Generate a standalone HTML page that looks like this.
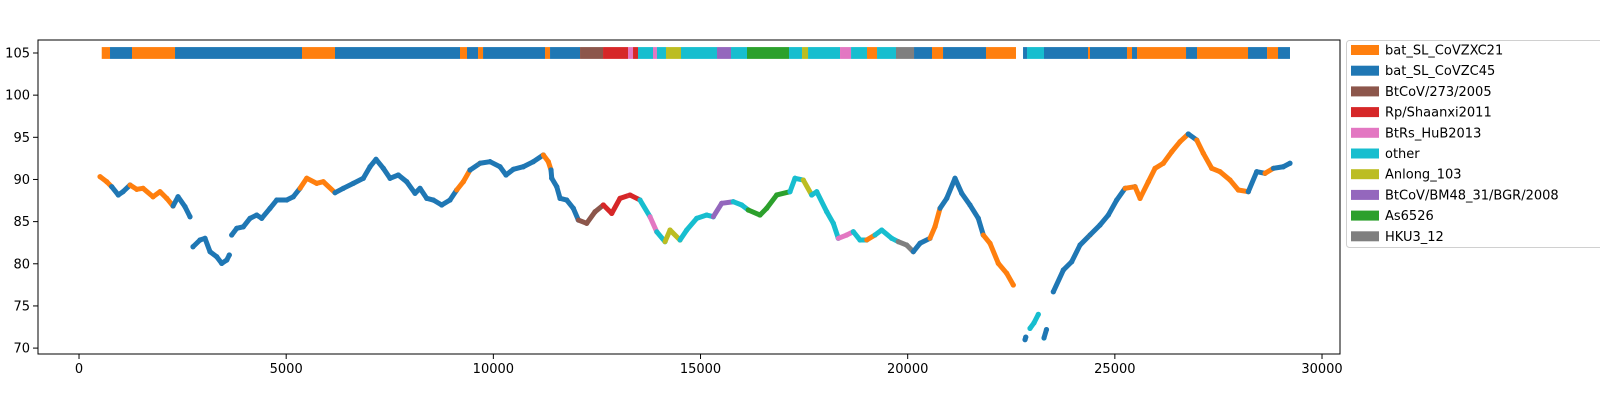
<!DOCTYPE html>
<html><head><meta charset="utf-8"><style>
body{margin:0;background:#fff}
svg{display:block;font-family:"DejaVu Sans","Liberation Sans",sans-serif}
</style></head><body>
<svg id="chart" width="1600" height="400">
<g id="plot"></g>
<g id="axes"></g>
<g id="legend"></g>
</svg>
<script>
const categories=["bat_SL_CoVZXC21","bat_SL_CoVZC45","BtCoV/273/2005","Rp/Shaanxi2011","BtRs_HuB2013","other","Anlong_103","BtCoV/BM48_31/BGR/2008","As6526","HKU3_12"];
const colors=["#ff7f0e","#1f77b4","#8c564b","#d62728","#e377c2","#17becf","#bcbd22","#9467bd","#2ca02c","#7f7f7f"];
const segStart=[548,748,1279,2317,5382,6178,9195,9364,9630,9751,11247,11368,12092,12647,13250,13371,13491,13853,13949,14167,14529,15398,15736,16122,17136,17450,17595,18367,18633,19018,19260,19718,20153,20587,20853,21890,22784,22880,23290,24352,24400,25293,25414,25535,26718,26983,28214,28673,28938];
const segEnd=[748,1279,2317,5382,6178,9195,9364,9630,9751,11247,11368,12092,12647,13250,13371,13491,13853,13949,14167,14529,15398,15736,16122,17136,17450,17595,18367,18633,19018,19260,19718,20153,20587,20853,21890,22614,22880,23290,24352,24400,25293,25414,25535,26718,26983,28214,28673,28938,29227];
const segCat=[0,1,0,1,0,1,0,1,0,1,0,1,2,3,4,3,5,4,5,6,5,7,5,8,5,6,5,4,5,0,5,9,1,0,1,0,1,5,1,0,1,0,1,0,1,0,1,0,1];
const posX=[507,669,789,948,1062,1231,1393,1545,1786,1955,2117,2269,2389,2558,2679,null,
2751,2920,3041,3162,3323,3444,3565,3627,null,
3685,3806,3965,4127,4289,4409,4610,4772,5013,5172,5334,5496,5737,5896,6179,6379,6620,6862,7023,7168,7344,7506,7706,7909,8109,8230,8392,8551,8754,8954,9116,9275,9437,9678,9920,10161,10306,10482,10723,10965,11206,11327,11392,11409,11530,11609,11771,11930,12051,12253,12454,12654,12857,13057,13298,13540,13781,13943,14143,14264,14505,14667,14908,15149,15309,15511,15791,15994,16153,16436,16597,16839,17160,17280,17481,17684,17805,18046,18205,18326,18528,18688,18849,19011,19211,19373,19614,19774,19976,20136,20297,20538,20659,20780,20942,21142,21304,21504,21704,21825,21987,22187,22390,22549,null,
22832,22850,null,22952,23050,23153,null,23290,23350,null,
23515,23757,23958,24159,24400,24642,24842,25045,25246,25487,25608,25808,25970,26170,26373,26573,26773,26976,27135,27338,27538,27780,27980,28221,28424,28624,28825,29066,29227];
const identity=[90.33,89.73,89.14,88.16,88.55,89.34,88.83,88.95,87.95,88.55,87.76,86.85,87.95,86.77,85.58,null,
82.02,82.82,83.02,81.43,80.84,80.05,80.44,81.04,null,
83.41,84.20,84.39,85.39,85.78,85.39,86.58,87.56,87.56,87.95,88.95,90.14,89.54,89.73,88.43,88.95,89.54,90.14,91.51,92.39,91.32,90.14,90.53,89.73,88.36,88.95,87.76,87.56,86.97,87.56,88.75,89.73,91.12,91.92,92.11,91.51,90.53,91.20,91.51,92.11,92.90,92.11,91.12,90.14,89.14,87.76,87.56,86.58,85.19,84.80,86.17,86.97,85.98,87.76,88.16,87.56,85.58,83.80,82.62,84.00,82.82,84.00,85.39,85.78,85.58,87.17,87.36,86.97,86.38,85.78,86.58,88.16,88.55,90.14,89.93,88.16,88.55,86.17,84.80,83.02,83.41,83.80,82.82,82.82,83.41,84.00,83.02,82.62,82.22,81.43,82.43,83.02,84.40,86.58,87.76,90.14,88.36,86.97,85.39,83.41,82.43,80.05,78.87,77.48,null,
71.0,71.3,null,72.34,73.0,74.0,null,71.2,72.2,null,
76.68,79.26,80.24,82.22,83.41,84.60,85.78,87.56,88.95,89.14,87.76,89.73,91.32,91.92,93.29,94.48,95.39,94.68,93.10,91.32,90.92,89.93,88.75,88.55,90.92,90.73,91.32,91.51,91.92];
const xTicks=[0,5000,10000,15000,20000,25000,30000];
const yTicks=[70,75,80,85,90,95,100,105];
const barY=105;

const L=38,R=1340,T=40,B=354;
const xMin=-990,xMax=30434,yMin=69.3,yMax=106.54;
const X=v=>L+(v-xMin)/(xMax-xMin)*(R-L);
const Y=v=>B-(v-yMin)/(yMax-yMin)*(B-T);
const NS="http://www.w3.org/2000/svg";
function mk(tag,attrs,parent){const e=document.createElementNS(NS,tag);for(const k in attrs)e.setAttribute(k,attrs[k]);parent.appendChild(e);return e;}
function catAt(x){let best=0,bd=1e9;for(let i=0;i<segStart.length;i++){if(x>=segStart[i]&&x<=segEnd[i])return segCat[i];const d=Math.min(Math.abs(x-segStart[i]),Math.abs(x-segEnd[i]));if(d<bd){bd=d;best=segCat[i];}}return best;}
const plot=document.getElementById('plot');
for(let i=0;i<segStart.length;i++){
  const r=mk('rect',{x:X(segStart[i]),y:Y(barY+0.7),width:Math.max(0.8,X(segEnd[i])-X(segStart[i])),height:Y(barY-0.7)-Y(barY+0.7),fill:colors[segCat[i]]},plot);
  
  
}
for(let i=0;i<posX.length;i++){
  if(posX[i]===null)continue;
  const c=colors[catAt(posX[i])];
  const p=mk('circle',{cx:X(posX[i]),cy:Y(identity[i]),r:2.6,fill:c},plot);
  
  
  if(i+1<posX.length&&posX[i+1]!==null){
    const mid=(posX[i]+posX[i+1])/2;
    const ln=mk('line',{x1:X(posX[i]),y1:Y(identity[i]),x2:X(posX[i+1]),y2:Y(identity[i+1]),stroke:colors[catAt(mid)],'stroke-width':5,'stroke-linecap':'round'},plot);
    
    
  }
}
const ax=document.getElementById('axes');
const fr=mk('rect',{x:L,y:T,width:R-L,height:B-T,fill:'none',stroke:'#000','stroke-width':1},ax);


xTicks.forEach(t=>{
  const x=X(t);
  mk('line',{x1:x,y1:B,x2:x,y2:B+5,stroke:'#000','stroke-width':1},ax);
  const tx=mk('text',{x:x,y:B+19,'font-size':13,'text-anchor':'middle',fill:'#000'},ax);
  tx.textContent=t;
  
  
});
yTicks.forEach(t=>{
  const y=Y(t);
  mk('line',{x1:L-5,y1:y,x2:L,y2:y,stroke:'#000','stroke-width':1},ax);
  const tx=mk('text',{x:L-8,y:y+4.5,'font-size':13,'text-anchor':'end',fill:'#000'},ax);
  tx.textContent=t;
  
  
});
const lg=document.getElementById('legend');
const box=mk('rect',{x:1346.5,y:40.5,width:300,height:207,rx:3,fill:'#fff',stroke:'#d0d0d0','stroke-width':1},lg);


categories.forEach((c,i)=>{
  const cy=50+i*20.7;
  const sw=mk('rect',{x:1351,y:cy-5,width:28,height:10,fill:colors[i]},lg);
  
  
  const tx=mk('text',{x:1385,y:cy+4.5,'font-size':13,fill:'#000'},lg);
  tx.textContent=c;
  
  
});
</script>
</body></html>
